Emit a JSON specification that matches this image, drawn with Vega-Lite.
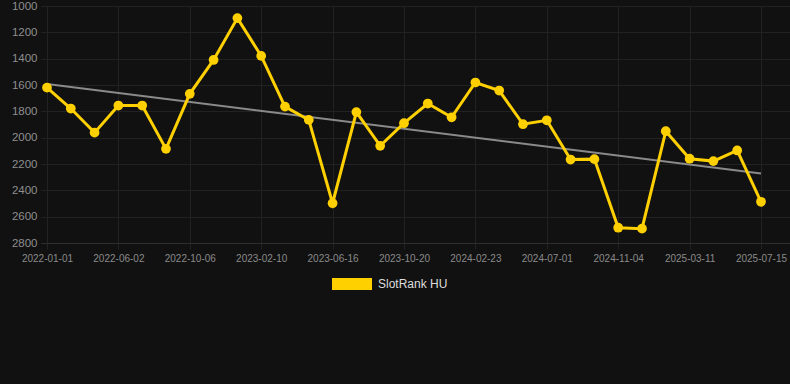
{
  "$schema": "https://vega.github.io/schema/vega-lite/v6.json",
  "width": 749,
  "height": 237,
  "autosize": {"type": "none"},
  "padding": {"left": 41, "top": 6, "right": 0, "bottom": 141},
  "background": "#111111",
  "config": {
    "view": {"stroke": null},
    "font": "Liberation Sans"
  },
  "datasets": {
    "ranks": [
      {"date": "2022-01-01", "rank": 1620, "series": "SlotRank HU"},
      {"date": "2022-02-21", "rank": 1779, "series": "SlotRank HU"},
      {"date": "2022-04-12", "rank": 1962, "series": "SlotRank HU"},
      {"date": "2022-06-02", "rank": 1756, "series": "SlotRank HU"},
      {"date": "2022-07-14", "rank": 1756, "series": "SlotRank HU"},
      {"date": "2022-08-25", "rank": 2085, "series": "SlotRank HU"},
      {"date": "2022-10-06", "rank": 1667, "series": "SlotRank HU"},
      {"date": "2022-11-17", "rank": 1410, "series": "SlotRank HU"},
      {"date": "2022-12-29", "rank": 1092, "series": "SlotRank HU"},
      {"date": "2023-02-10", "rank": 1379, "series": "SlotRank HU"},
      {"date": "2023-03-24", "rank": 1764, "series": "SlotRank HU"},
      {"date": "2023-05-05", "rank": 1865, "series": "SlotRank HU"},
      {"date": "2023-06-16", "rank": 2498, "series": "SlotRank HU"},
      {"date": "2023-07-28", "rank": 1806, "series": "SlotRank HU"},
      {"date": "2023-09-08", "rank": 2062, "series": "SlotRank HU"},
      {"date": "2023-10-20", "rank": 1890, "series": "SlotRank HU"},
      {"date": "2023-12-01", "rank": 1741, "series": "SlotRank HU"},
      {"date": "2024-01-12", "rank": 1845, "series": "SlotRank HU"},
      {"date": "2024-02-23", "rank": 1581, "series": "SlotRank HU"},
      {"date": "2024-04-05", "rank": 1642, "series": "SlotRank HU"},
      {"date": "2024-05-17", "rank": 1898, "series": "SlotRank HU"},
      {"date": "2024-07-01", "rank": 1868, "series": "SlotRank HU"},
      {"date": "2024-08-12", "rank": 2166, "series": "SlotRank HU"},
      {"date": "2024-09-23", "rank": 2163, "series": "SlotRank HU"},
      {"date": "2024-11-04", "rank": 2684, "series": "SlotRank HU"},
      {"date": "2024-12-16", "rank": 2691, "series": "SlotRank HU"},
      {"date": "2025-01-27", "rank": 1951, "series": "SlotRank HU"},
      {"date": "2025-03-11", "rank": 2160, "series": "SlotRank HU"},
      {"date": "2025-04-22", "rank": 2178, "series": "SlotRank HU"},
      {"date": "2025-06-03", "rank": 2097, "series": "SlotRank HU"},
      {"date": "2025-07-15", "rank": 2487, "series": "SlotRank HU"}
    ],
    "trend": [
      {"date": "2022-01-01", "rank": 1592},
      {"date": "2025-07-15", "rank": 2272}
    ]
  },
  "encoding": {
    "x": {
      "field": "date",
      "type": "ordinal",
      "scale": {"type": "point", "padding": 0.735, "align": 0.171},
      "axis": {
        "title": null,
        "values": ["2022-01-01", "2022-06-02", "2022-10-06", "2023-02-10", "2023-06-16", "2023-10-20", "2024-02-23", "2024-07-01", "2024-11-04", "2025-03-11", "2025-07-15"],
        "labelAngle": 0,
        "labelFontSize": 10,
        "labelColor": "#8a8a8a",
        "labelPadding": 4,
        "grid": true,
        "gridColor": "#222222",
        "tickColor": "#222222",
        "tickSize": 6,
        "domain": true,
        "domainColor": "#2e2e2e"
      }
    },
    "y": {
      "field": "rank",
      "type": "quantitative",
      "scale": {"domain": [1000, 2800], "reverse": true, "nice": false, "zero": false},
      "axis": {
        "title": null,
        "values": [1000, 1200, 1400, 1600, 1800, 2000, 2200, 2400, 2600, 2800],
        "format": "d",
        "labelFontSize": 11.5,
        "labelColor": "#8f8f8f",
        "labelPadding": 4,
        "ticks": false,
        "domain": false,
        "grid": true,
        "gridColor": "#222222"
      }
    }
  },
  "layer": [
    {
      "data": {"name": "trend"},
      "mark": {"type": "line", "color": "#8a8a8a", "strokeWidth": 2},
      "encoding": {}
    },
    {
      "data": {"name": "ranks"},
      "mark": {"type": "line", "strokeWidth": 3},
      "encoding": {
        "color": {
          "field": "series",
          "type": "nominal",
          "scale": {"range": ["#ffd000"]},
          "legend": {
            "title": null,
            "orient": "none",
            "legendX": 291,
            "legendY": 258,
            "symbolType": "M-1,-0.3H1V0.3H-1Z",
            "symbolSize": 1600,
            "symbolFillColor": "#ffd000",
            "symbolStrokeWidth": 0,
            "labelFontSize": 12,
            "labelColor": "#dddddd",
            "labelOffset": 6
          }
        }
      }
    },
    {
      "data": {"name": "ranks"},
      "mark": {"type": "point", "filled": true, "size": 95, "opacity": 1},
      "encoding": {
        "color": {"field": "series", "type": "nominal"}
      }
    }
  ]
}
